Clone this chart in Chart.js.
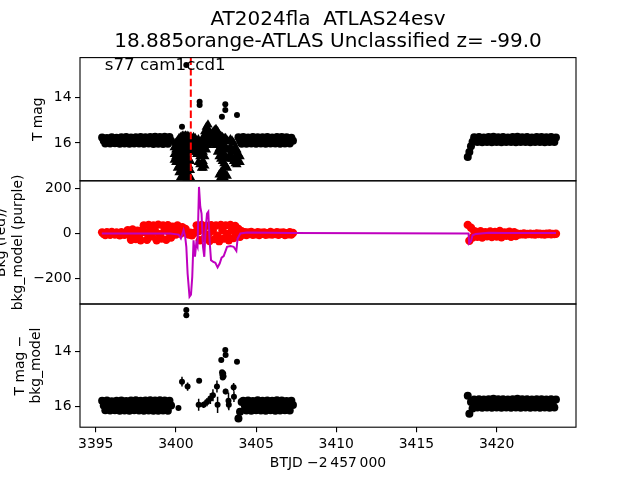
<!DOCTYPE html>
<html>
<head>
<meta charset="utf-8">
<script src="https://cdn.jsdelivr.net/npm/chart.js@4.4.1/dist/chart.umd.min.js"></script>
<style>
  html, body { margin: 0; padding: 0; background: #fff; }
  canvas { display: block; }
</style>
</head>
<body>
<canvas id="lc" width="640" height="480"></canvas>
<script>
// ---- texts ----
const titleLines = ['AT2024fla  ATLAS24esv', '18.885orange-ATLAS Unclassified z= -99.0'];
const panelLabel = 's77 cam1ccd1';
const xTitle = 'BTJD \u22122\u2009457\u2009000';
const magTitle = 'T mag';
const bkgTitle = ['Bkg (red)/', 'bkg_model (purple)'];
const diffTitle = ['T mag \u2212', 'bkg_model'];

// ---- axes ----
const xRange = [3394.02, 3424.95];
const magRange = [12.26, 17.66];
const bkgRange = [-312, 233];
const diffRange = [12.25, 16.77];
const xTicks = [3395, 3400, 3405, 3410, 3415, 3420];
const magTicks = [14, 16];
const bkgTicks = [-200, 0, 200];
const discoveryTime = 3400.93;

// ---- sample times (days) ----
const timesA = [3395.4, 3395.5, 3395.6, 3395.7, 3395.8, 3395.9,
  3396.0, 3396.1, 3396.2, 3396.3, 3396.4, 3396.5, 3396.6, 3396.7, 3396.8, 3396.9,
  3397.0, 3397.1, 3397.2, 3397.3, 3397.4, 3397.5, 3397.6, 3397.7, 3397.8, 3397.9,
  3398.0, 3398.1, 3398.2, 3398.3, 3398.4, 3398.5, 3398.6, 3398.7, 3398.8, 3398.9,
  3399.0, 3399.1, 3399.2, 3399.3, 3399.4, 3399.5, 3399.6, 3399.7];
const timesMid = [3399.8, 3399.9,
  3400.0, 3400.1, 3400.2, 3400.3, 3400.4, 3400.5, 3400.6, 3400.7, 3400.8, 3400.9,
  3401.0, 3401.1, 3401.2, 3401.3, 3401.4, 3401.5, 3401.6, 3401.7, 3401.8, 3401.9,
  3402.0, 3402.1, 3402.2, 3402.3, 3402.4, 3402.5, 3402.6, 3402.7, 3402.8, 3402.9,
  3403.0, 3403.1, 3403.2, 3403.3, 3403.4, 3403.5, 3403.6, 3403.7, 3403.8];
const timesB = [3403.9,
  3404.0, 3404.1, 3404.2, 3404.3, 3404.4, 3404.5, 3404.6, 3404.7, 3404.8, 3404.9,
  3405.0, 3405.1, 3405.2, 3405.3, 3405.4, 3405.5, 3405.6, 3405.7, 3405.8, 3405.9,
  3406.0, 3406.1, 3406.2, 3406.3, 3406.4, 3406.5, 3406.6, 3406.7, 3406.8, 3406.9,
  3407.0, 3407.1, 3407.2, 3407.3];
const timesC = [3418.2, 3418.3, 3418.4, 3418.5, 3418.6, 3418.7, 3418.8, 3418.9,
  3419.0, 3419.1, 3419.2, 3419.3, 3419.4, 3419.5, 3419.6, 3419.7, 3419.8, 3419.9,
  3420.0, 3420.1, 3420.2, 3420.3, 3420.4, 3420.5, 3420.6, 3420.7, 3420.8, 3420.9,
  3421.0, 3421.1, 3421.2, 3421.3, 3421.4, 3421.5, 3421.6, 3421.7, 3421.8, 3421.9,
  3422.0, 3422.1, 3422.2, 3422.3, 3422.4, 3422.5, 3422.6, 3422.7, 3422.8, 3422.9,
  3423.0, 3423.1, 3423.2, 3423.3, 3423.4, 3423.5, 3423.6, 3423.7];

// ---- top panel: T mag ----
const magA = [15.76, 15.90, 16.02, 15.78, 15.88, 16.03, 15.75, 15.91, 16.01, 15.77, 15.89, 16.04,
  15.75, 15.91, 16.03, 15.74, 15.90, 16.04, 15.76, 15.87, 16.02, 15.75, 15.91, 16.03,
  15.74, 15.89, 16.04, 15.75, 15.90, 16.03, 15.74, 15.88, 16.05, 15.73, 15.91, 16.04,
  15.74, 15.90, 16.05, 15.73, 15.89, 16.04, 15.74, 15.91];
const magB = [15.75, 15.90, 16.04, 15.74, 15.89, 16.04, 15.76, 15.91, 16.03, 15.74, 15.88, 16.04,
  15.75, 15.90, 16.02, 15.75, 15.89, 16.04, 15.74, 15.90, 16.03, 15.76, 15.88, 16.03,
  15.74, 15.90, 16.04, 15.74, 15.89, 16.03, 15.75, 15.90, 16.02, 15.77, 15.91];
const magC = [16.62, 16.40, 16.15, 15.95,
  15.75, 15.86, 15.96, 15.74, 15.85, 15.97, 15.76, 15.87, 15.96, 15.74, 15.85, 15.97,
  15.73, 15.86, 15.96, 15.75, 15.85, 15.97, 15.74, 15.87, 15.96, 15.76, 15.85, 15.96,
  15.74, 15.86, 15.97, 15.73, 15.85, 15.96, 15.75, 15.87, 15.96, 15.74, 15.85, 15.97,
  15.76, 15.86, 15.96, 15.74, 15.85, 15.96, 15.74, 15.87, 15.97, 15.75, 15.85, 15.96,
  15.74, 15.86, 15.96, 15.76];
// upper limits (triangles): [time, mags...]
const limitColumns = [
  [3399.9, [16.2, 16.5, 16.75]],
  [3400.0, [16.0, 16.3, 16.6, 16.85]],
  [3400.1, [15.9, 16.2, 16.5, 16.8, 17.1]],
  [3400.2, [15.8, 16.1, 16.4, 16.7, 17.0, 17.3]],
  [3400.3, [15.75, 16.0, 16.3, 16.6, 16.9, 17.2, 17.5]],
  [3400.4, [15.7, 15.95, 16.25, 16.55, 16.85, 17.15, 17.45]],
  [3400.5, [15.7, 16.0, 16.3, 16.6, 16.9, 17.2, 17.5]],
  [3400.6, [15.68, 15.95, 16.2, 16.5, 16.8, 17.1, 17.4]],
  [3400.7, [15.7, 16.0, 16.3, 16.6, 16.9, 17.3, 17.55]],
  [3400.8, [15.72, 16.0, 16.3, 16.7, 17.0, 17.4]],
  [3400.9, [15.75, 16.05, 16.4, 16.8, 17.2, 17.5]],
  [3401.0, [15.8, 16.1, 16.4]],
  [3401.1, [15.75, 16.0, 16.3]],
  [3401.2, [15.8, 16.05, 16.25]],
  [3401.3, [15.9, 16.2, 16.5]],
  [3401.4, [15.85, 16.15, 16.5, 16.85]],
  [3401.5, [16.0, 16.3, 16.6, 16.95]],
  [3401.6, [15.9, 16.2, 16.55, 16.9, 17.1]],
  [3401.7, [15.75, 16.1, 16.4, 16.8, 17.1]],
  [3401.8, [15.5, 15.85, 16.2, 16.6, 17.0]],
  [3401.9, [15.3, 15.6, 15.95, 16.3]],
  [3402.0, [15.2, 15.45, 15.8, 16.1]],
  [3402.1, [15.5, 15.8, 16.0]],
  [3402.2, [15.6, 15.85, 16.05]],
  [3402.3, [15.55, 15.8, 16.0]],
  [3402.4, [15.45, 15.7, 15.95]],
  [3402.5, [15.4, 15.65, 15.9, 16.1]],
  [3402.6, [15.5, 15.8, 16.1, 16.4]],
  [3402.7, [15.65, 15.95, 16.25, 16.6, 17.4]],
  [3402.8, [15.7, 16.0, 16.3, 16.7, 17.3, 17.5]],
  [3402.9, [15.75, 16.05, 16.4, 16.8, 17.2, 17.45]],
  [3403.0, [15.8, 16.1, 16.5, 16.9, 17.3, 17.5]],
  [3403.1, [15.8, 16.2, 16.6, 17.0, 17.4]],
  [3403.2, [15.9, 16.3, 16.7, 17.1, 17.45]],
  [3403.3, [15.95, 16.3, 16.6]],
  [3403.4, [15.85, 16.2, 16.5]],
  [3403.5, [15.9, 16.3, 16.7]],
  [3403.6, [16.0, 16.4, 16.8]],
  [3403.7, [16.2, 16.6, 16.9]],
  [3403.8, [16.3, 16.7, 16.95]],
  [3403.9, [16.5, 16.8]],
  [3404.0, [16.6, 16.85]]
];
// detections outside the band, with errors
const magOutTimes = [3400.38, 3400.65, 3401.48, 3401.48, 3402.87, 3403.08, 3403.08, 3403.81];
const magOutValues = [15.29, 12.58, 14.19, 14.34, 14.85, 14.31, 14.56, 14.78];
const magOutErrors = [0.10, 0.03, 0.03, 0.03, 0.04, 0.03, 0.03, 0.03];

// ---- middle panel: background ----
const bkgA = [5, -2, -7, 6, 0, -6, 7, -1, -5, 4, 1, -8, 6, -3, -6, 5,
  15, -5, -28, 18, 2, -25, 12, -8, -30, 16,
  36, 5, -28, 38, 18, -12, 35, 10, -30, 39, -3, -22, 36, 14, -28, 37, 2, -18];
const bkgMid = [30, 10, -5, 35, 15, 0, 28, 8, 20, 5,
  -5, 3, -8, 0, 5,
  36, 10, -30, 38, 15, -20, 34, -5, -33, 37, 12, -25, 35, -10, -34, 38, 15, -22,
  36, -2, -30, 38, 15, -20, 33, -6];
const bkgB = [20, -15, 10, -5, 6, -7, 4, -3, 7, -6, 2, -4, 6, -7, 3, -2, 5, -6,
  1, -4, 7, -5, 2, -3, 6, -6, 3, -2, 5, -7, 1, -4, 6, -5, 2];
const bkgC = [38, -32, 25, -18, 10,
  8, -15, 0, 10, -18, -5, 6, -12, 2, 9, -16, -4, 7, -14, 1, 11, -17, -6, 5, -10,
  3, 8, -15, -3, 6, -11,
  -1, -5, -2, -4, 0, -5, -2, -3, -1, -4, -2, -5, 0, -3, -1, -4, -2, -5, -1, -3,
  0, -4, -2, -3, -1];
const modelTimes = [3395.38, 3399.65, 3400.06, 3400.17, 3400.31, 3400.48, 3400.58, 3400.65,
  3400.73, 3400.85, 3400.94, 3401.02, 3401.10, 3401.19, 3401.27, 3401.35, 3401.44, 3401.52,
  3401.60, 3401.69, 3401.77, 3401.85, 3401.94, 3402.02, 3402.10, 3402.19, 3402.31, 3402.46,
  3402.60, 3402.73, 3402.85, 3402.98, 3403.19, 3403.40, 3403.60, 3403.77, 3403.85, 3404.02,
  3404.44, 3407.15, 3418.25, 3418.29, 3418.40, 3418.50, 3418.70, 3419.50, 3420.50, 3423.70];
const modelValues = [0, 0, -4, -5, -22, 15, -15, -59,
  -177, -280, -271, -192, -30, -103, -44, -59, 206, 118,
  88, -59, -103, 15, 88, 96, -30, -118, -125, -130,
  -150, -133, -107, -100, -59, -56, -59, -77, -22, 0,
  4, 2, 0, -44, -35, -8, -2, 3, 2, 2];

// ---- bottom panel: T mag - bkg_model ----
const diffA = [15.80, 15.97, 16.15, 15.79, 15.98, 16.16, 15.82, 15.96, 16.15, 15.80, 15.98, 16.17,
  15.79, 15.96, 16.16, 15.81, 15.98, 16.17, 15.79, 15.96, 16.15, 15.78, 15.98, 16.16,
  15.80, 15.97, 16.17, 15.79, 15.96, 16.16, 15.78, 15.98, 16.17, 15.79, 15.97, 16.17,
  15.78, 15.96, 16.16, 15.79, 15.98, 16.17, 15.80, 15.97];
const diffB = [16.45, 16.20, 15.85, 15.80, 15.98, 16.16, 15.79, 15.96, 16.17, 15.81, 15.97, 16.15,
  15.78, 15.98, 16.16, 15.80, 15.96, 16.17, 15.79, 15.97, 16.15, 15.80, 15.96, 16.17,
  15.78, 15.98, 16.16, 15.79, 15.97, 16.15, 15.81, 15.96, 16.16, 15.80, 15.96];
const diffC = [15.62, 16.28, 15.85, 16.08,
  15.75, 15.89, 16.05, 15.74, 15.90, 16.06, 15.75, 15.88, 16.05, 15.74, 15.89, 16.06,
  15.73, 15.88, 16.05, 15.74, 15.90, 16.06, 15.74, 15.87, 16.05, 15.75, 15.89, 16.06,
  15.74, 15.88, 16.05, 15.73, 15.90, 16.06, 15.74, 15.87, 16.05, 15.74, 15.89, 16.06,
  15.75, 15.88, 16.05, 15.74, 15.90, 16.06, 15.74, 15.87, 16.05, 15.75, 15.89, 16.06,
  15.74, 15.88, 16.05, 15.75];
const diffOutTimes = [3400.16, 3400.38, 3400.65, 3400.65, 3400.73, 3401.45, 3401.42, 3401.73,
  3401.94, 3402.15, 3402.31, 3402.56, 3402.60, 3402.83, 3402.88, 3402.90, 3402.92, 3402.95,
  3402.97, 3403.08, 3403.10, 3403.10, 3403.28, 3403.30, 3403.60, 3403.62, 3403.81];
const diffOutValues = [16.07, 15.10, 12.47, 12.66, 15.28, 15.07, 15.95, 15.95,
  15.85, 15.72, 15.60, 15.28, 15.95, 14.30, 14.75, 14.85, 14.95, 14.80,
  14.90, 13.94, 14.12, 15.46, 15.80, 15.95, 15.30, 15.65, 14.37];
const diffOutErrors = [0.05, 0.18, 0.03, 0.03, 0.15, 0.04, 0.22, 0.12,
  0.15, 0.20, 0.22, 0.22, 0.30, 0.04, 0.05, 0.05, 0.05, 0.05,
  0.05, 0.04, 0.04, 0.10, 0.30, 0.20, 0.15, 0.20, 0.04];

// ---- helpers ----
Chart.defaults.font.family = "'DejaVu Sans', sans-serif";
Chart.defaults.font.size = 13.9;
Chart.defaults.color = '#000';

const toPoints = (ts, vs) => ts.map((t, i) => ({x: t, y: vs[i]}));
const minusFmt = v => (v < 0 ? '\u2212' + Math.abs(v) : String(v));
const fixedTicks = list => scale => { scale.ticks = list.map(v => ({value: v})); };
const tickGrid = {drawOnChartArea: false, drawTicks: true, tickLength: 5, color: '#000', lineWidth: 1.1};

const bandTimes = [...timesA, ...timesB, ...timesC];
const bkgTimes = [...timesA, ...timesMid, ...timesB, ...timesC];
const limitPoints = limitColumns.flatMap(([t, mags]) => mags.map(m => ({x: t, y: m})));

const marker = (color, r, style) => ({
    pointStyle: style || 'circle', pointRadius: r, pointBorderWidth: 0,
    pointBackgroundColor: color, backgroundColor: color, borderColor: color
});

// clip each dataset to its own panel, and draw error bars inside that clip
const panelClip = {
    id: 'panelClip',
    beforeDatasetDraw(chart, args) {
        const s = chart.scales[args.meta.yAxisID];
        const a = chart.chartArea;
        const c = chart.ctx;
        c.save();
        c.beginPath();
        c.rect(a.left, s.top, a.right - a.left, s.bottom - s.top);
        c.clip();
    },
    afterDatasetDraw(chart, args) {
        const ds = chart.data.datasets[args.index];
        const c = chart.ctx;
        if (ds.errors) {
            const xs = chart.scales.x;
            const ys = chart.scales[args.meta.yAxisID];
            c.strokeStyle = '#000';
            c.lineWidth = 1.5;
            ds.data.forEach((p, i) => {
                const px = xs.getPixelForValue(p.x);
                c.beginPath();
                c.moveTo(px, ys.getPixelForValue(p.y - ds.errors[i]));
                c.lineTo(px, ys.getPixelForValue(p.y + ds.errors[i]));
                c.stroke();
            });
        }
        c.restore();
    }
};

const decorations = {
    id: 'decorations',
    afterDatasetsDraw(chart) {
        const c = chart.ctx;
        const a = chart.chartArea;
        const ym = chart.scales.yMag;
        const px = chart.scales.x.getPixelForValue(discoveryTime);
        c.save();
        c.strokeStyle = '#ff0000';
        c.lineWidth = 2;
        c.setLineDash([7.4, 3.2]);
        c.beginPath();
        c.moveTo(px, ym.top);
        c.lineTo(px, ym.bottom);
        c.stroke();
        c.setLineDash([]);
        c.fillStyle = '#000';
        c.font = "16.67px 'DejaVu Sans'";
        c.textBaseline = 'alphabetic';
        c.textAlign = 'left';
        const h = ym.bottom - ym.top;
        c.fillText(panelLabel, a.left + 0.05 * (a.right - a.left), ym.bottom - 0.9 * h);
        c.restore();
    },
    afterDraw(chart) {
        const c = chart.ctx;
        const a = chart.chartArea;
        c.save();
        c.strokeStyle = '#000';
        c.lineWidth = 1.1;
        ['yMag', 'yBkg', 'yDiff'].forEach(id => {
            const s = chart.scales[id];
            c.strokeRect(a.left, s.top, a.right - a.left, s.bottom - s.top);
        });
        c.restore();
    }
};

const yAxis = (range, ticks, title, titlePad, reverse) => ({
    type: 'linear', position: 'left', stack: 'panels', stackWeight: 1,
    reverse: reverse, min: range[0], max: range[1],
    afterBuildTicks: fixedTicks(ticks),
    afterFit: s => { s.width = 80; },
    ticks: {padding: 3.5, callback: minusFmt},
    grid: tickGrid,
    border: {display: false},
    title: {display: true, text: title, padding: {top: titlePad, bottom: 0}}
});

new Chart(document.getElementById('lc'), {
    type: 'scatter',
    data: {
        datasets: [
            {data: toPoints(magOutTimes, magOutValues), errors: magOutErrors, yAxisID: 'yMag', order: 0, ...marker('#000', 3)},
            {data: toPoints(bandTimes, [...magA, ...magB, ...magC]), yAxisID: 'yMag', order: 1, ...marker('#000', 4)},
            {data: limitPoints, yAxisID: 'yMag', order: 2, ...marker('#000', 5.5, 'triangle')},
            {data: toPoints(modelTimes, modelValues), yAxisID: 'yBkg', order: 3, showLine: true,
             borderColor: '#bf00bf', borderWidth: 2, pointRadius: 0, tension: 0, fill: false},
            {data: toPoints(bkgTimes, [...bkgA, ...bkgMid, ...bkgB, ...bkgC]), yAxisID: 'yBkg', order: 4, ...marker('#ff0000', 4.2)},
            {data: toPoints(diffOutTimes, diffOutValues), errors: diffOutErrors, yAxisID: 'yDiff', order: 5, ...marker('#000', 3)},
            {data: toPoints(bandTimes, [...diffA, ...diffB, ...diffC]), yAxisID: 'yDiff', order: 6, ...marker('#000', 4)}
        ]
    },
    options: {
        responsive: false,
        animation: false,
        devicePixelRatio: 1,
        layout: {padding: {left: 0, right: 64, top: 0, bottom: 0}},
        plugins: {
            legend: {display: false},
            tooltip: {enabled: false},
            title: {
                display: true, text: titleLines, fullSize: false, color: '#000',
                font: {size: 20, weight: 'normal', lineHeight: 1.1},
                padding: {top: 9.1, bottom: 4.5}
            }
        },
        scales: {
            x: {
                type: 'linear', position: 'bottom', min: xRange[0], max: xRange[1],
                afterBuildTicks: fixedTicks(xTicks),
                afterFit: s => { s.height = 52.8; },
                ticks: {padding: 3.5, maxRotation: 0, autoSkip: false, callback: v => String(v)},
                grid: tickGrid,
                border: {display: false},
                title: {display: true, text: xTitle, padding: {top: 0, bottom: 8.7}}
            },
            yDiff: yAxis(diffRange, magTicks, diffTitle, 11.7, true),
            yBkg: yAxis(bkgRange, bkgTicks, bkgTitle, -6.5, false),
            yMag: yAxis(magRange, magTicks, magTitle, 30, true)
        }
    },
    plugins: [panelClip, decorations]
});
</script>
</body>
</html>
